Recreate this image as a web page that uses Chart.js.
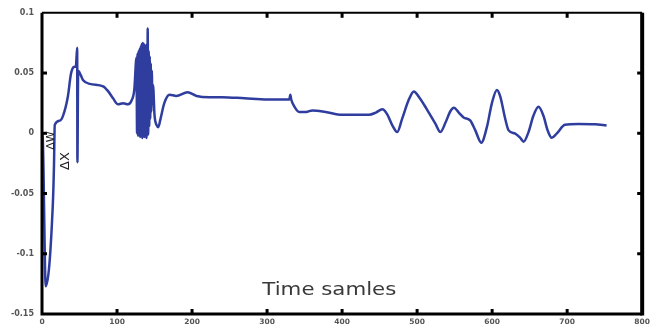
<!DOCTYPE html>
<html>
<head>
<meta charset="utf-8">
<script src="https://cdn.jsdelivr.net/npm/chart.js@4.4.1/dist/chart.umd.min.js"></script>
<style>
html,body{margin:0;padding:0;background:#fff;}
canvas{display:block;}
</style>
</head>
<body>
<canvas id="c" width="654" height="328"></canvas>
<script>
// Sample index (time samples)
const samples = [0, 1, 5, 14.5, 16, 17, 23.5, 28, 34.6, 38.5, 42.5, 45.2, 46.9, 47.2, 48.2, 51.8, 54.9, 63.8, 81.5, 88, 94.7, 101.4, 108, 114.7, 119.2, 123,
  126, 126.7, 127.4, 128.1, 128.8, 129.5, 130.2, 130.9, 131.6, 132.3, 133, 133.7, 134.4, 135.1, 135.8, 136.5, 137.2, 137.9, 138.6, 139.3, 140, 140.5, 140.9, 141.5,
  142.2, 142.9, 143.6, 144.3, 145, 145.7, 146.4, 147.1, 148, 150,
  153, 155, 158, 163, 170, 179, 194, 206, 223, 240, 270, 300, 316, 329.6, 331, 332.2, 336, 343, 352, 360.5, 378, 400, 436,
  445, 453.6, 460, 467, 473.5, 480, 489, 495.7, 502, 513, 524.5, 531, 538, 544.5, 549, 555.5, 562, 571, 577.6, 585.6,
  593, 599.8, 606.4, 610.8, 617.5, 622, 630.8, 637.5, 642, 648.5, 655, 661.8, 668.4, 674, 679.5, 686, 697, 715, 737, 752.6];
// Signal value
const values = [0, -0.004, -0.127, -0.058, -0.026, 0.007, 0.0105, 0.0145, 0.031, 0.049, 0.055, 0.056, 0.071, -0.024, 0.052, 0.048, 0.044, 0.041, 0.039, 0.035, 0.029, 0.024, 0.025, 0.024, 0.027, 0.036,
  0.063, 0.0, 0.066, -0.002, 0.068, 0.003, 0.070, -0.003, 0.072, 0.004, 0.074, -0.004, 0.075, 0.006, 0.074, -0.003, 0.073, 0.002, 0.072, -0.004, 0.074, 0.010, 0.087, -0.001,
  0.068, 0.006, 0.064, 0.012, 0.058, 0.018, 0.052, 0.024, 0.040, 0.015,
  0.0065, 0.005, 0.012, 0.025, 0.032, 0.031, 0.034, 0.031, 0.030, 0.030, 0.029, 0.028, 0.028, 0.028, 0.032, 0.028, 0.0226, 0.0177, 0.0177, 0.019, 0.0177, 0.0153, 0.0153,
  0.0172, 0.0199, 0.0159, 0.0065, 0.001, 0.0119, 0.028, 0.0347, 0.0306, 0.0199, 0.0078, 0.001, 0.0091, 0.0185, 0.0212, 0.0172, 0.0131, 0.0105, 0.0024, -0.0078,
  0.0051, 0.0253, 0.036, 0.0306, 0.0118, 0.0024, -0.0003, -0.0038, -0.007, 0.001, 0.0145, 0.022, 0.0145, 0.0024, -0.0038, -0.0003, 0.007, 0.0078, 0.0075, 0.0065];

const xTicks = [0, 100, 200, 300, 400, 500, 600, 700, 800];
const xTickLabels = ['0', '100', '200', '300', '400', '500', '600', '700', '800'];
const yTicks = [-0.15, -0.1, -0.05, 0, 0.05, 0.1];
const yTickLabels = ['-0.15', '-0.1', '-0.05', '0', '0.05', '0.1'];

const xLabelText = 'Time samles';
const annotations = [
  {text: '\u0394W', x: 12, y: -0.006, size: 11},
  {text: '\u0394X', x: 32, y: -0.023, size: 13}
];

const points = samples.map((s, i) => ({x: s, y: values[i]}));

function labelFor(v, ticks, labels) {
  for (let i = 0; i < ticks.length; i++) if (Math.abs(ticks[i] - v) < 1e-9) return labels[i];
  return '';
}

const framePlugin = {
  id: 'frame',
  afterDatasetsDraw(chart) {
    const ctx = chart.ctx;
    const a = chart.chartArea;
    const xs = chart.scales.x, ys = chart.scales.y;
    ctx.save();
    ctx.strokeStyle = '#000';
    ctx.lineWidth = 3;
    ctx.beginPath();
    ctx.moveTo(a.left, a.top); ctx.lineTo(a.left, a.bottom); ctx.lineTo(a.right, a.bottom);
    ctx.stroke();
    ctx.lineWidth = 4;
    ctx.beginPath(); ctx.moveTo(a.right, a.top); ctx.lineTo(a.right, a.bottom + 1.5); ctx.stroke();
    ctx.lineWidth = 2;
    ctx.beginPath(); ctx.moveTo(a.left, a.top); ctx.lineTo(a.right, a.top); ctx.stroke();
    ctx.lineWidth = 3;
    const tl = 5;
    xTicks.forEach(v => {
      const px = xs.getPixelForValue(v);
      if (px <= a.left + 2 || px >= a.right - 2) return;
      ctx.beginPath(); ctx.moveTo(px, a.bottom); ctx.lineTo(px, a.bottom - tl); ctx.stroke();
      ctx.beginPath(); ctx.moveTo(px, a.top); ctx.lineTo(px, a.top + tl); ctx.stroke();
    });
    yTicks.forEach(v => {
      const py = ys.getPixelForValue(v);
      if (py <= a.top + 2 || py >= a.bottom - 2) return;
      ctx.beginPath(); ctx.moveTo(a.left, py); ctx.lineTo(a.left + tl, py); ctx.stroke();
      ctx.beginPath(); ctx.moveTo(a.right, py); ctx.lineTo(a.right - tl, py); ctx.stroke();
    });
    // axis title drawn inside the plot, as in the original
    ctx.fillStyle = '#3a3a3a';
    ctx.font = '18px "DejaVu Sans", sans-serif';
    ctx.textBaseline = 'alphabetic';
    ctx.textAlign = 'left';
    const w = ctx.measureText(xLabelText).width;
    const target = 134;
    const cx = xs.getPixelForValue(383), cy = ys.getPixelForValue(-0.1345);
    ctx.save();
    ctx.translate(cx - target / 2, cy);
    ctx.scale(target / w, 1);
    ctx.fillText(xLabelText, 0, 0);
    ctx.restore();
    annotations.forEach(an => {
      ctx.save();
      ctx.translate(xs.getPixelForValue(an.x), ys.getPixelForValue(an.y));
      ctx.rotate(-Math.PI / 2);
      ctx.font = an.size + 'px "DejaVu Sans", sans-serif';
      ctx.fillStyle = '#222';
      ctx.textAlign = 'center';
      ctx.textBaseline = 'middle';
      ctx.fillText(an.text, 0, 0);
      ctx.restore();
    });
    ctx.restore();
  }
};

new Chart(document.getElementById('c'), {
  type: 'line',
  data: {
    datasets: [{
      data: points,
      borderColor: '#2f3d9e',
      borderWidth: 2.5,
      pointRadius: 0,
      cubicInterpolationMode: 'monotone',
      fill: false
    }]
  },
  options: {
    responsive: false,
    animation: false,
    devicePixelRatio: 1,
    layout: {padding: {top: 4, right: 9, left: 0, bottom: 0}},
    plugins: {legend: {display: false}, tooltip: {enabled: false}},
    scales: {
      x: {
        type: 'linear', min: 0, max: 800,
        grid: {display: false, drawTicks: false},
        border: {display: false},
        afterBuildTicks(s) { s.ticks = xTicks.map(v => ({value: v})); },
        afterFit(s) { s.height = 14; },
        ticks: {
          padding: 4, maxRotation: 0, autoSkip: false,
          color: '#555', font: {family: '"DejaVu Sans", sans-serif', size: 7.5, weight: 'bold'},
          callback: v => labelFor(v, xTicks, xTickLabels)
        }
      },
      y: {
        type: 'linear', min: -0.15, max: 0.1,
        grid: {display: false, drawTicks: false},
        border: {display: false},
        afterBuildTicks(s) { s.ticks = yTicks.map(v => ({value: v})); },
        afterFit(s) { s.width = 42; },
        ticks: {
          padding: 8, autoSkip: false,
          color: '#555', font: {family: '"DejaVu Sans", sans-serif', size: 8, weight: 'bold'},
          callback: v => labelFor(v, yTicks, yTickLabels)
        }
      }
    }
  },
  plugins: [framePlugin]
});
</script>
</body>
</html>
